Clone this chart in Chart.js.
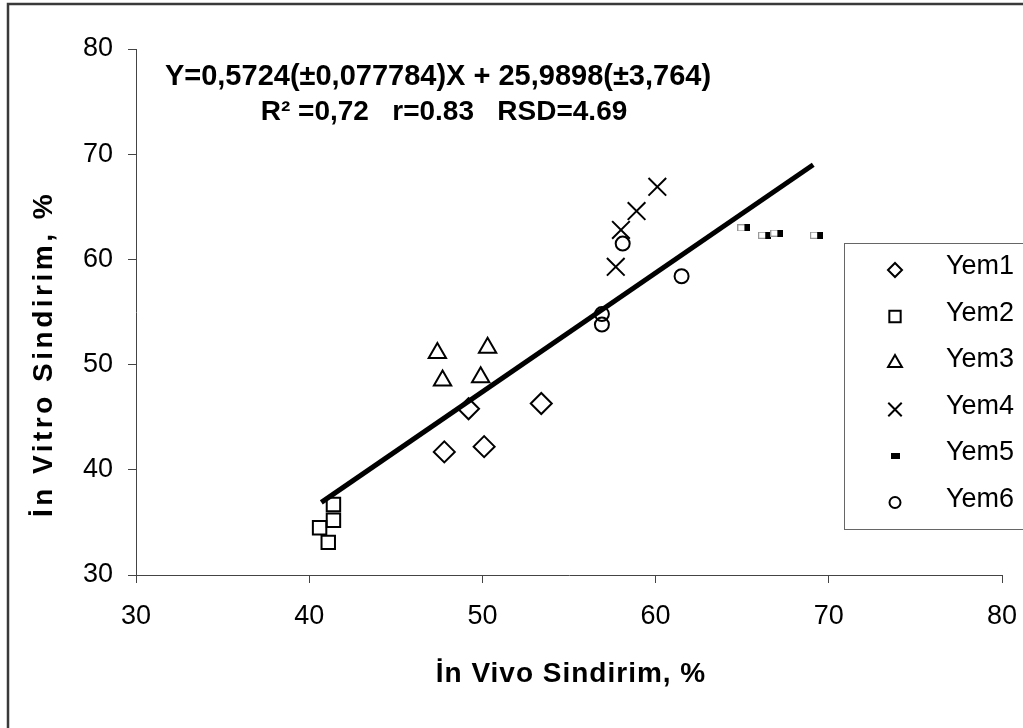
<!DOCTYPE html>
<html>
<head>
<meta charset="utf-8">
<script src="https://cdn.jsdelivr.net/npm/chart.js@4/dist/chart.umd.min.js"></script>
<style>
html, body { margin: 0; padding: 0; background: #fff; }
</style>
</head>
<body>
<canvas id="myChart" width="1023" height="728"></canvas>
<script>
// values
const seriesNames = ["Yem1", "Yem2", "Yem3", "Yem4", "Yem5", "Yem6"];
const yem1X = [47.8, 50.1, 49.2, 53.4];
const yem1Y = [41.7, 42.2, 45.8, 46.3];
const yem2X = [41.4, 41.4, 40.6, 41.1];
const yem2Y = [36.7, 35.2, 34.5, 33.1];
const yem3X = [47.4, 50.3, 47.7, 49.9];
const yem3Y = [51.1, 51.6, 48.5, 48.8];
const yem4X = [60.1, 58.9, 58.0, 57.7];
const yem4Y = [66.9, 64.6, 62.8, 59.3];
const yem5X = [65.1, 66.3, 67.0, 69.3];
const yem5Y = [63.0, 62.3, 62.5, 62.3];
const yem6X = [58.1, 61.5, 56.9, 56.9];
const yem6Y = [61.5, 58.4, 54.8, 53.8];
const fitX = [40.7, 69.1];
const fitY = [36.9, 69.0];
const tickValues = [30, 40, 50, 60, 70, 80];

const equationLine1 = "Y=0,5724(±0,077784)X + 25,9898(±3,764)";
const equationLine2 = "R² =0,72   r=0.83   RSD=4.69";
const xTitle = "İn Vivo Sindirim, %";
const yTitle = "İn Vitro Sindirim, %";

const FONT = "'Liberation Sans', Arial, sans-serif";

function pts(xs, ys) {
	return xs.map((x, i) => ({ x: x, y: ys[i] }));
}

function dashMark(w, h, solid) {
	const cv = document.createElement("canvas");
	cv.width = w;
	cv.height = h;
	const g = cv.getContext("2d");
	if (solid) {
		g.fillStyle = "#000";
		g.fillRect(0, 0, w, h);
		return cv;
	}
	g.fillStyle = "#fff";
	g.fillRect(0, 0, w, h);
	g.strokeStyle = "#999";
	g.lineWidth = 1;
	g.strokeRect(0.5, 0.5, w - 1, h - 1);
	g.fillStyle = "#000";
	g.fillRect(Math.round(w / 2), 0, w - Math.round(w / 2), h);
	return cv;
}

const markStyles = [
	{ pointStyle: "rectRot", radius: 10.5, legendRadius: 7 },
	{ pointStyle: "rect", radius: 9.5, legendRadius: 8 },
	{ pointStyle: "triangle", radius: 10, legendRadius: 8 },
	{ pointStyle: "crossRot", radius: 12.5, legendRadius: 9.5 },
	{ pointStyle: dashMark(13, 7, false), radius: 6, legendStyle: dashMark(9, 6, true) },
	{ pointStyle: "circle", radius: 7, legendRadius: 5.5 },
];

const seriesData = [
	pts(yem1X, yem1Y),
	pts(yem2X, yem2Y),
	pts(yem3X, yem3Y),
	pts(yem4X, yem4Y),
	pts(yem5X, yem5Y),
	pts(yem6X, yem6Y),
];

const datasets = [
	{
		type: "line",
		label: "fit",
		data: pts(fitX, fitY),
		borderColor: "#000",
		borderWidth: 5,
		pointRadius: 0,
		fill: false,
		order: 0,
	},
];
seriesNames.forEach((name, i) => {
	datasets.push({
		type: "scatter",
		label: name,
		data: seriesData[i],
		pointStyle: markStyles[i].pointStyle,
		pointRadius: markStyles[i].radius,
		borderColor: "#000",
		backgroundColor: "rgba(0,0,0,0)",
		pointBorderWidth: 2,
		order: 1,
	});
});

const decor = {
	id: "decor",
	beforeDraw(chart) {
		const c = chart.ctx;
		c.save();
		c.fillStyle = "#fff";
		c.fillRect(0, 0, chart.width, chart.height);
		c.strokeStyle = "#3a3a3a";
		c.lineWidth = 2.5;
		c.strokeRect(8, 4, 1040, 760);
		c.restore();
	},
	afterDraw(chart) {
		const c = chart.ctx;
		c.save();
		c.fillStyle = "#000";
		c.textAlign = "center";
		c.textBaseline = "middle";

		// equation text
		c.font = "bold 29px " + FONT;
		c.fillText(equationLine1, 438, 77);
		c.font = "bold 28px " + FONT;
		c.fillText(equationLine2, 444, 112);

		// axis titles
		c.save();
		c.letterSpacing = "1px";
		c.fillText(xTitle, 571, 674);
		c.restore();
		c.save();
		c.translate(44, 354);
		c.rotate(-Math.PI / 2);
		c.letterSpacing = "3.5px";
		c.fillText(yTitle, 0, 0);
		c.restore();

		// legend box
		c.fillStyle = "#fff";
		c.fillRect(844, 243, 190, 286);
		c.strokeStyle = "#666";
		c.lineWidth = 1;
		c.strokeRect(844.5, 243.5, 190, 286);

		c.textAlign = "left";
		c.font = "27px " + FONT;
		seriesNames.forEach((name, i) => {
			const y = 270 + i * 46.5;
			const m = markStyles[i];
			c.strokeStyle = "#000";
			c.fillStyle = "rgba(0,0,0,0)";
			c.lineWidth = 2;
			Chart.helpers.drawPoint(c, {
				pointStyle: m.legendStyle || m.pointStyle,
				radius: m.legendRadius || 5,
				rotation: 0,
				borderWidth: 2,
			}, 895, y);
			c.fillStyle = "#000";
			c.fillText(name, 946, y - 3);
		});
		c.restore();
	},
};

const tickFont = { size: 27, family: FONT };

new Chart(document.getElementById("myChart"), {
	type: "scatter",
	data: { datasets: datasets },
	options: {
		responsive: false,
		devicePixelRatio: 1,
		animation: false,
		layout: { autoPadding: false, padding: { top: 49, right: 21, left: 0, bottom: 0 } },
		plugins: {
			legend: { display: false },
			tooltip: { enabled: false },
		},
		scales: {
			x: {
				type: "linear",
				min: tickValues[0],
				max: tickValues[tickValues.length - 1],
				afterBuildTicks(s) { s.ticks = tickValues.map((v) => ({ value: v })); },
				ticks: { color: "#000", font: tickFont, padding: 17, maxRotation: 0 },
				grid: { drawOnChartArea: false, tickLength: 8, color: "#444" },
				border: { color: "#444", width: 1 },
				afterFit(s) {
					s.height = 153;
					s.paddingLeft = 0;
					s.paddingRight = 0;
				},
			},
			y: {
				type: "linear",
				min: tickValues[0],
				max: tickValues[tickValues.length - 1],
				afterBuildTicks(s) { s.ticks = tickValues.map((v) => ({ value: v })); },
				ticks: { color: "#000", font: tickFont, padding: 15 },
				grid: { drawOnChartArea: false, tickLength: 8, color: "#444" },
				border: { color: "#444", width: 1 },
				afterFit(s) {
					s.width = 136;
					s.paddingTop = 0;
					s.paddingBottom = 0;
				},
			},
		},
	},
	plugins: [decor],
});
</script>
</body>
</html>
